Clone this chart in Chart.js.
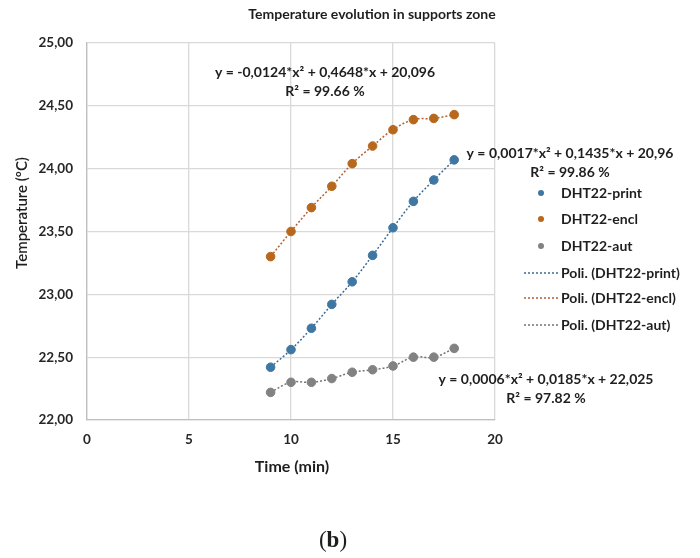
<!DOCTYPE html>
<html>
<head>
<meta charset="utf-8">
<script src="https://cdn.jsdelivr.net/npm/chart.js@4.4.1/dist/chart.umd.min.js"></script>
<style>
  html, body { margin: 0; padding: 0; background: #fff; }
  canvas { display: block; }
</style>
</head>
<body>
<canvas id="chart" width="700" height="558"></canvas>
<script>
// time (min)
const timeValues = [9, 10, 11, 12, 13, 14, 15, 16, 17, 18];
// temperatures (ºC)
const printTemps = [22.42, 22.56, 22.73, 22.92, 23.10, 23.31, 23.53, 23.74, 23.91, 24.07];
const enclTemps = [23.30, 23.50, 23.69, 23.86, 24.04, 24.18, 24.31, 24.39, 24.40, 24.43];
const autTemps = [22.22, 22.30, 22.30, 22.33, 22.38, 22.40, 22.43, 22.50, 22.50, 22.57];

const seriesNames = ['DHT22-print', 'DHT22-encl', 'DHT22-aut'];
const equations = [
  ['y = 0,0017*x\u00b2 + 0,1435*x + 20,96', 'R\u00b2 = 99.86 %'],
  ['y = -0,0124*x\u00b2 + 0,4648*x + 20,096', 'R\u00b2 = 99.66 %'],
  ['y = 0,0006*x\u00b2 + 0,0185*x + 22,025', 'R\u00b2 = 97.82 %']
];

const FONT = 'Lato, "Open Sans", sans-serif';
const pointColors = ['#3f77a3', '#b8681c', '#828282'];
const trendColors = ['#3d6b97', '#b35f36', '#737373'];

const toXY = arr => arr.map((v, i) => ({ x: timeValues[i], y: v }));
const allSeries = [printTemps, enclTemps, autTemps];

const datasets = [];
allSeries.forEach((s, i) => {
  datasets.push({
    label: seriesNames[i],
    data: toXY(s),
    showLine: false,
    pointRadius: 4.3,
    pointHoverRadius: 4.3,
    backgroundColor: pointColors[i],
    borderColor: pointColors[i],
    borderWidth: 1,
    order: 1
  });
});
allSeries.forEach((s, i) => {
  datasets.push({
    label: 'Poli. (' + seriesNames[i] + ')',
    data: toXY(s),
    showLine: true,
    pointRadius: 0,
    borderColor: trendColors[i],
    borderWidth: 1.5,
    borderDash: [2, 2],
    tension: 0.4,
    order: 2
  });
});

const textPlugin = {
  id: 'texts',
  afterDraw(chart) {
    const ctx = chart.ctx;
    ctx.save();
    ctx.textBaseline = 'middle';
    ctx.fillStyle = '#1e1e1e';

    // title
    ctx.textAlign = 'center';
    ctx.font = 'bold 14px ' + FONT;
    ctx.fillText('Temperature evolution in supports zone', 372, 14);

    // axis titles
    ctx.font = 'bold 16px ' + FONT;
    ctx.fillText('Time (min)', 292, 467);
    ctx.save();
    ctx.translate(22, 213);
    ctx.rotate(-Math.PI / 2);
    ctx.font = '600 15px ' + FONT;
    ctx.fillText('Temperature (\u00baC)', 0, 0);
    ctx.restore();

    // trend equations
    ctx.font = 'bold 14px ' + FONT;
    const eqPos = [[570, 153], [325, 72], [546, 379]];
    equations.forEach((eq, i) => {
      ctx.fillText(eq[0], eqPos[i][0], eqPos[i][1]);
      ctx.fillText(eq[1], eqPos[i][0], eqPos[i][1] + 19);
    });

    // legend
    const rows = [193, 219, 246, 273, 298, 325];
    ctx.textAlign = 'left';
    chart.data.datasets.forEach((ds, i) => {
      const y = rows[i];
      if (ds.showLine) {
        ctx.strokeStyle = ds.borderColor;
        ctx.lineWidth = 1.5;
        ctx.setLineDash([2, 2]);
        ctx.beginPath();
        ctx.moveTo(524, y);
        ctx.lineTo(558, y);
        ctx.stroke();
        ctx.setLineDash([]);
      } else {
        ctx.fillStyle = ds.backgroundColor;
        ctx.beginPath();
        ctx.arc(541, y, 3, 0, Math.PI * 2);
        ctx.fill();
      }
      ctx.fillStyle = '#1e1e1e';
      ctx.font = 'bold 14px ' + FONT;
      ctx.fillText(ds.label, 561, y);
    });

    // panel letter
    ctx.textAlign = 'left';
    const serif = '"Liberation Serif", serif';
    ctx.font = '23px ' + serif;
    const wOpen = ctx.measureText('(').width;
    ctx.font = 'bold 23px ' + serif;
    const wB = ctx.measureText('b').width;
    ctx.font = '23px ' + serif;
    const wClose = ctx.measureText(')').width;
    let x = 333 - (wOpen + wB + wClose) / 2;
    ctx.fillText('(', x, 541);
    x += wOpen;
    ctx.font = 'bold 23px ' + serif;
    ctx.fillText('b', x, 541);
    x += wB;
    ctx.font = '23px ' + serif;
    ctx.fillText(')', x, 541);
    ctx.restore();
  }
};

new Chart(document.getElementById('chart').getContext('2d'), {
  type: 'scatter',
  data: { datasets },
  options: {
    responsive: false,
    animation: false,
    layout: { padding: { left: 0, top: 43, right: 205, bottom: 0 } },
    plugins: {
      legend: { display: false },
      title: { display: false },
      tooltip: { enabled: false }
    },
    scales: {
      x: {
        type: 'linear',
        min: 0,
        max: 20,
        ticks: {
          stepSize: 5,
          padding: 12,
          color: '#262626',
          font: { family: FONT, size: 13.5, weight: 'bold' }
        },
        grid: { color: '#d9d9d9', lineWidth: 1.3, drawTicks: false },
        border: { color: '#bfbfbf', width: 1.3 },
        afterFit(scale) { scale.height = 138; }
      },
      y: {
        min: 22,
        max: 25,
        ticks: {
          stepSize: 0.5,
          padding: 14,
          color: '#262626',
          font: { family: FONT, size: 13.5, weight: 'bold' },
          callback: v => v.toFixed(2).replace('.', ',')
        },
        grid: { color: '#d9d9d9', lineWidth: 1.3, drawTicks: false },
        border: { color: '#bfbfbf', width: 1.3 },
        afterFit(scale) { scale.width = 87; }
      }
    }
  },
  plugins: [textPlugin]
});
</script>
</body>
</html>
